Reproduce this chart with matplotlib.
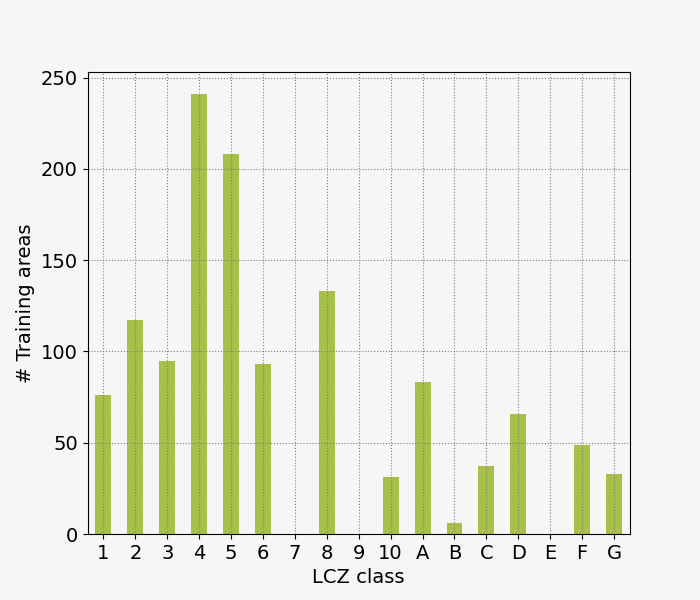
import matplotlib
matplotlib.use("Agg")
import matplotlib.pyplot as plt
import numpy as np

# LCZ classes and number of training areas per class
classes = ["1", "2", "3", "4", "5", "6", "7", "8", "9", "10",
           "A", "B", "C", "D", "E", "F", "G"]
counts = [76, 117, 95, 241, 208, 93, 0, 133, 0, 31,
          83, 6, 37, 66, 0, 49, 33]

bg = "#f6f6f6"
fig, ax = plt.subplots(figsize=(7, 6), dpi=100, facecolor=bg)
ax.set_facecolor(bg)

x = np.arange(len(classes))
ax.bar(x, counts, width=0.5, color="#a8bf48")

ax.set_xticks(x)
ax.set_xticklabels(classes)
ax.set_xlim(-0.5, len(classes) - 0.5)
ax.set_ylim(0, max(counts) * 1.05)

# grid is drawn on top of the bars, as in the original
ax.grid(True, linestyle=":", color="grey", linewidth=0.8)
ax.set_axisbelow("line")
ax.tick_params(labelsize=14)
ax.set_xlabel("LCZ class", fontsize=14)
ax.set_ylabel("# Training areas", fontsize=14)

fig.savefig("out.png", facecolor=bg)
